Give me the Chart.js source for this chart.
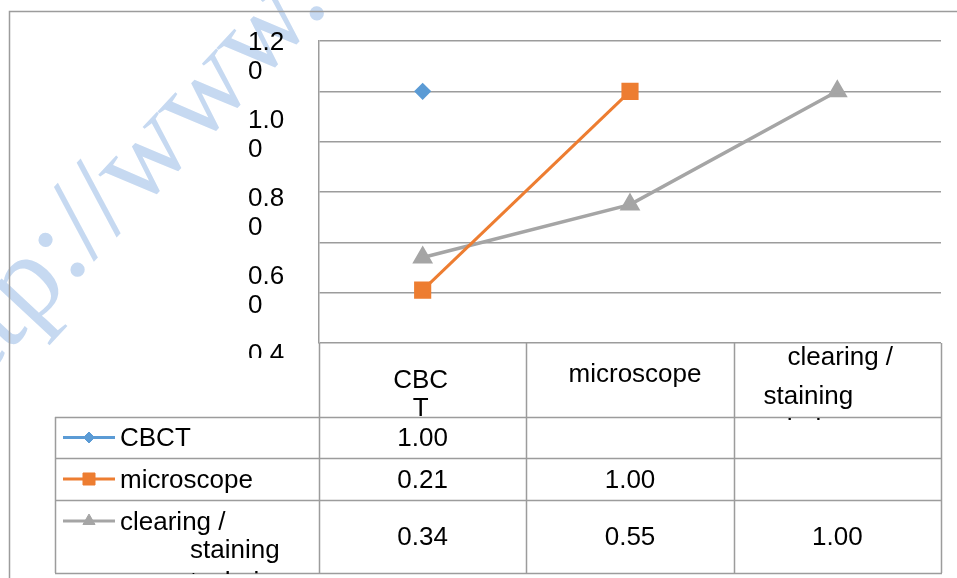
<!DOCTYPE html>
<html>
<head>
<meta charset="utf-8">
<script src="https://cdn.jsdelivr.net/npm/chart.js@4.4.1/dist/chart.umd.min.js"></script>
<style>
  html, body { margin: 0; padding: 0; background: #fff; }
  #wrap { position: relative; width: 957px; height: 578px; overflow: hidden; }
  #mark { position: absolute; left: 0; top: 0; }
  #chart { position: absolute; left: 0; top: 0; }
</style>
</head>
<body>
<div id="wrap">
  <svg id="mark" width="957" height="578">
    <text x="-57" y="422" transform="rotate(-47 -57 422)" font-family="Liberation Serif" font-size="120" fill="#c6d9f1">http://www.</text>
  </svg>
  <canvas id="chart" width="957" height="578"></canvas>
</div>
<script>
const categories = ['CBCT', 'microscope', 'clearing / staining technique'];
const seriesNames = ['CBCT', 'microscope', 'clearing / staining technique'];
const cbctValues = [1.00, null, null];
const microscopeValues = [0.21, 1.00, null];
const clearingValues = [0.34, 0.55, 1.00];
const yTickLabels = ['1.20', '1.00', '0.80', '0.60', '0.40'];

// how the narrow cells wrap the text
const headerLines = [['CBC', 'T'], ['microscope'], ['clearing /', 'staining', 'technique']];
const legendLines = [['CBCT'], ['microscope'], ['clearing /', 'staining', 'technique']];

const colors = ['#5B9BD5', '#ED7D31', '#A5A5A5'];
const markers = ['rectRot', 'rect', 'triangle'];
const FONT = '26px "Liberation Sans", Arial, sans-serif';
const LINE = '#9c9c9c';

function drawMarker(ctx, style, r, x, y, color) {
  ctx.fillStyle = color;
  ctx.strokeStyle = color;
  ctx.lineWidth = 1;
  Chart.helpers.drawPoint(ctx, { pointStyle: style, radius: r, rotation: 0, borderWidth: 1 }, x, y);
}

const tablePlugin = {
  id: 'dataTable',
  afterDraw(chart) {
    const ctx = chart.ctx;
    const x = chart.scales.x;
    const area = chart.chartArea;
    const half = (x.getPixelForValue(1) - x.getPixelForValue(0)) / 2;
    const colEdges = [area.left];
    categories.forEach((c, i) => colEdges.push(x.getPixelForValue(i) + half));
    const legendLeft = 55;
    const rows = [area.bottom, 417, 458, 500, 573];

    ctx.save();
    // outer frame
    ctx.strokeStyle = LINE;
    ctx.lineWidth = 1.5;
    ctx.beginPath();
    ctx.moveTo(9.5, 600);
    ctx.lineTo(9.5, 11.5);
    ctx.lineTo(960, 11.5);
    ctx.stroke();

    // y labels (wrapped, as in the source)
    ctx.save();
    ctx.beginPath();
    ctx.rect(0, 0, area.left - 2, 358);
    ctx.clip();
    ctx.font = FONT;
    ctx.fillStyle = '#000';
    ctx.textAlign = 'left';
    ctx.textBaseline = 'alphabetic';
    yTickLabels.forEach((lab, i) => {
      const base = 50 + i * 78;
      ctx.fillText(lab.slice(0, 3), 248, base);
      ctx.fillText(lab.slice(3), 248, base + 29);
    });
    ctx.restore();

    // table grid
    ctx.strokeStyle = LINE;
    ctx.lineWidth = 1.5;
    ctx.beginPath();
    colEdges.forEach(cx => {
      const px = Math.round(cx) + 0.5;
      ctx.moveTo(px, rows[0]);
      ctx.lineTo(px, rows[4]);
    });
    ctx.moveTo(legendLeft + 0.5, rows[1]);
    ctx.lineTo(legendLeft + 0.5, rows[4]);
    for (let r = 1; r < rows.length; r++) {
      ctx.moveTo(legendLeft, rows[r] + 0.5);
      ctx.lineTo(Math.round(colEdges[3]) + 1, rows[r] + 0.5);
    }
    ctx.stroke();

    ctx.font = FONT;
    ctx.fillStyle = '#000';
    ctx.textBaseline = 'alphabetic';

    // header row
    const headBase = [[388, 416], [382], [365, 404, 437]];
    const headShift = [[-2, -2], [5], [3, -29, -29]];
    ctx.save();
    ctx.beginPath();
    ctx.rect(area.left, rows[0], colEdges[3] - area.left, 420 - rows[0]);
    ctx.clip();
    ctx.textAlign = 'center';
    headerLines.forEach((lines, i) => {
      const cx = x.getPixelForValue(i);
      lines.forEach((t, j) => ctx.fillText(t, cx + headShift[i][j], headBase[i][j]));
    });
    ctx.restore();

    // legend column + values
    const series = [cbctValues, microscopeValues, clearingValues];
    const rowBase = [446, 488, 545];
    const legendBase = [[446], [488], [530, 558, 590]];
    const legendX = [[120], [120], [120, 190, 190]];
    series.forEach((vals, r) => {
      const cy = (rows[r + 1] + rows[r + 2]) / 2;
      ctx.save();
      ctx.beginPath();
      ctx.rect(legendLeft, rows[r + 1], area.left - legendLeft, rows[r + 2] - rows[r + 1] + 1);
      ctx.clip();
      ctx.strokeStyle = colors[r];
      ctx.lineWidth = 3;
      const iconY = r === 2 ? 521 : cy;
      ctx.beginPath();
      ctx.moveTo(63, iconY);
      ctx.lineTo(115, iconY);
      ctx.stroke();
      drawMarker(ctx, markers[r], [5.5, 8.5, 7][r], 89, iconY, colors[r]);
      ctx.fillStyle = '#000';
      ctx.textAlign = 'left';
      legendLines[r].forEach((t, j) => ctx.fillText(t, legendX[r][j], legendBase[r][j]));
      ctx.restore();

      ctx.textAlign = 'center';
      ctx.fillStyle = '#000';
      vals.forEach((v, i) => {
        if (v === null) return;
        ctx.fillText(v.toFixed(2), x.getPixelForValue(i), rowBase[r]);
      });
    });
    ctx.restore();
  }
};

const ctx = document.getElementById('chart').getContext('2d');
new Chart(ctx, {
  type: 'line',
  data: {
    labels: categories,
    datasets: [
      { label: seriesNames[0], data: cbctValues, borderColor: colors[0], backgroundColor: colors[0],
        pointStyle: markers[0], pointRadius: 6.5, borderWidth: 3 },
      { label: seriesNames[1], data: microscopeValues, borderColor: colors[1], backgroundColor: colors[1],
        pointStyle: markers[1], pointRadius: 10, borderWidth: 3 },
      { label: seriesNames[2], data: clearingValues, borderColor: colors[2], backgroundColor: colors[2],
        pointStyle: markers[2], pointRadius: 8.5, borderWidth: 3.5 }
    ]
  },
  options: {
    responsive: false,
    animation: false,
    devicePixelRatio: 1,
    layout: { padding: { left: 319, top: 41, right: 16, bottom: 227 } },
    plugins: { legend: { display: false }, tooltip: { enabled: false } },
    scales: {
      x: {
        offset: true,
        grid: { display: false },
        border: { display: false },
        ticks: { display: false }
      },
      y: {
        min: 0,
        max: 1.2,
        ticks: { display: false, stepSize: 0.2 },
        grid: { color: LINE, lineWidth: 1.5, drawTicks: false },
        border: { color: LINE, width: 1.5 }
      }
    }
  },
  plugins: [tablePlugin]
});
</script>
</body>
</html>
